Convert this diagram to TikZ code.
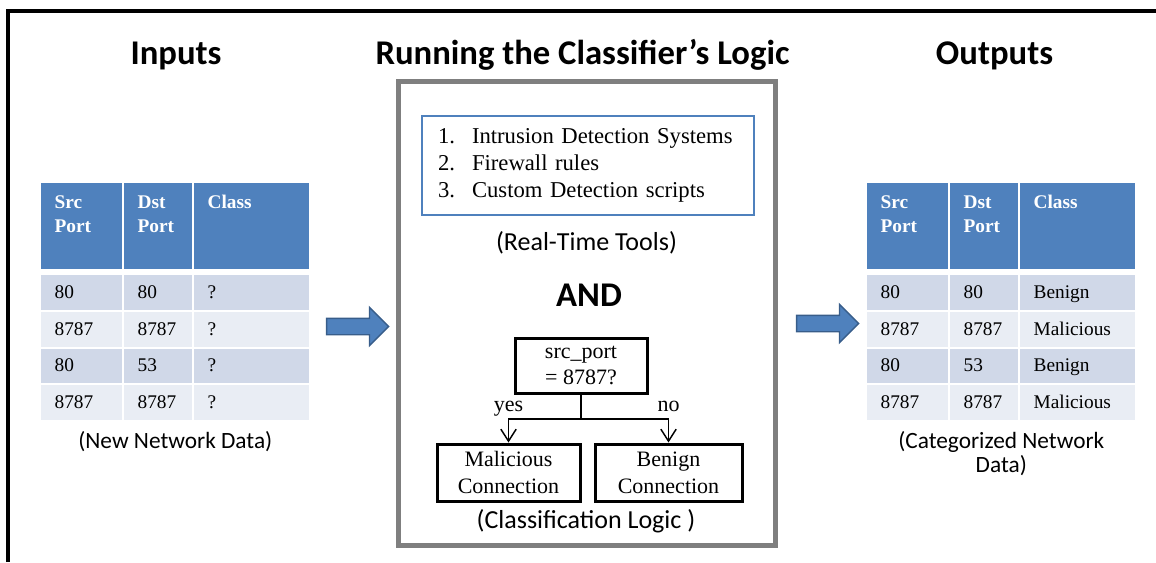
\documentclass[tikz,border=0pt]{standalone}
\usepackage{fontspec}
\setmainfont{Liberation Serif}
\newfontfamily\calibri{Carlito}
\usepackage{tikz}
\usetikzlibrary{matrix,positioning,shapes.arrows,arrows.meta}
\definecolor{ofblue}{HTML}{4F81BD}
\definecolor{ofdark}{HTML}{385D8A}
\definecolor{rowdark}{HTML}{D0D8E8}
\definecolor{rowlight}{HTML}{E9EDF4}
\definecolor{boxgray}{HTML}{7F7F7F}
\newcommand{\numitem}[1]{\makebox[25.5pt][l]{#1}}

\tikzset{
  heading/.style={font=\calibri\bfseries\fontsize{26}{30}\selectfont, inner sep=0pt, anchor=base},
  caption/.style={font=\calibri\fontsize{17.5}{18}\selectfont, align=center, inner sep=0pt},
  midcaption/.style={caption, font=\calibri\fontsize{19.5}{20}\selectfont, anchor=base},
  hdrcell/.style={fill=ofblue, text=white, font=\bfseries\fontsize{14.5}{18}\selectfont,
    text height=19pt, text depth=45.5pt},
  darkcell/.style={fill=rowdark, text height=17.5pt, text depth=8.5pt},
  lightcell/.style={fill=rowlight, text height=17.5pt, text depth=8.5pt},
  porttable/.style={matrix of nodes, anchor=north west, inner sep=0pt,
    column sep=1.5pt, row sep=1.5pt,
    nodes={inner xsep=10pt, inner ysep=0pt, align=left, font=\fontsize{14.5}{16}\selectfont},
    column 1/.style={nodes={text width=40.75pt}},
    column 2/.style={nodes={text width=31pt}},
    column 3/.style={nodes={text width=66.25pt}},
    row 1/.style={nodes={hdrcell}},
    row 2/.style={nodes={darkcell}}, row 3/.style={nodes={lightcell}},
    row 4/.style={nodes={darkcell}}, row 5/.style={nodes={lightcell}}},
  blockarrow/.style={single arrow, fill=ofblue, draw=ofdark, line width=1pt,
    minimum height=46.5pt, inner xsep=0pt, inner ysep=5.625pt, single arrow head extend=8.25pt},
  treebox/.style={draw, line width=2.25pt, align=center, inner sep=0pt,
    font=\fontsize{16.5}{20}\selectfont},
  treeline/.style={line width=1.1pt, -{Straight Barb[length=9pt,width=11.5pt]}},
  branch/.style={font=\fontsize{16.5}{20}\selectfont, text depth=3.5pt, inner sep=1.5pt}
}

\begin{document}
\begin{tikzpicture}[x=0.75pt,y=-0.75pt]
  \useasboundingbox (0,0) rectangle (1156,562);
  \draw[line width=3pt] (8,562) -- (8,10.5) -- (1156,10.5);

  % headings
  \node[heading] (intitle) at (176,64) {Inputs};
  \node[heading] (logictitle) at (582.5,64) {Running the Classifier’s Logic};
  \node[heading] (outtitle) at (994.5,64) {Outputs};

  % input data
  \matrix (intab) [porttable] at (41,183) {
    {Src\\Port} & {Dst\\Port} & Class \\[3pt]
    80 & 80 & ? \\
    8787 & 8787 & ? \\
    80 & 53 & ? \\
    8787 & 8787 & ? \\
  };
  \node[caption, below=8pt of intab] (incap) {(New Network Data)};

  \node[blockarrow] (toin) at (353.5,326.5) {};

  % classifier
  \node[draw=boxgray, line width=4pt, minimum width=282.75pt, minimum height=348pt]
    (logic) at (587,313.5) {};
  \node[draw=ofblue, line width=2pt, minimum width=249pt, minimum height=74.25pt,
    text width=225pt, inner xsep=12pt, align=left, font=\fontsize{17}{20.25}\selectfont]
    (tools) at (588,165.5)
    {\numitem{1.}Intrusion Detection Systems\\ \numitem{2.}Firewall rules\\ \numitem{3.}Custom Detection scripts};
  \node[midcaption] (toolscap) at (586.5,250) {(Real-Time Tools)};
  \node[heading] (and) at (589,306) {AND};

  \node[treebox, minimum width=99pt, minimum height=41.25pt] (test) at (581,365.5) {src\_port\\= 8787?};
  \node[treebox, minimum width=107.25pt, minimum height=42.75pt] (mal) at (508.5,472.5) {Malicious\\Connection};
  \node[treebox, minimum width=110.25pt, minimum height=42.75pt] (ben) at (668.5,472.5) {Benign\\Connection};
  \coordinate (split) at (581,419);
  \draw[line width=1.1pt] (test) -- (split);
  \draw[treeline] (split) -| node[branch, pos=.5, above] {yes} (mal);
  \draw[treeline] (split) -| node[branch, pos=.5, above] {no} (ben);
  \node[midcaption] (logiccap) at (586,528) {(Classification Logic )};

  \node[blockarrow] (toout) at (823.5,323.5) {};

  % categorized data
  \matrix (outtab) [porttable] at (867,183) {
    {Src\\Port} & {Dst\\Port} & Class \\[3pt]
    80 & 80 & Benign \\
    8787 & 8787 & Malicious \\
    80 & 53 & Benign \\
    8787 & 8787 & Malicious \\
  };
  \node[caption, below=8pt of outtab] (outcap) {(Categorized Network\\Data)};
\end{tikzpicture}
\end{document}
